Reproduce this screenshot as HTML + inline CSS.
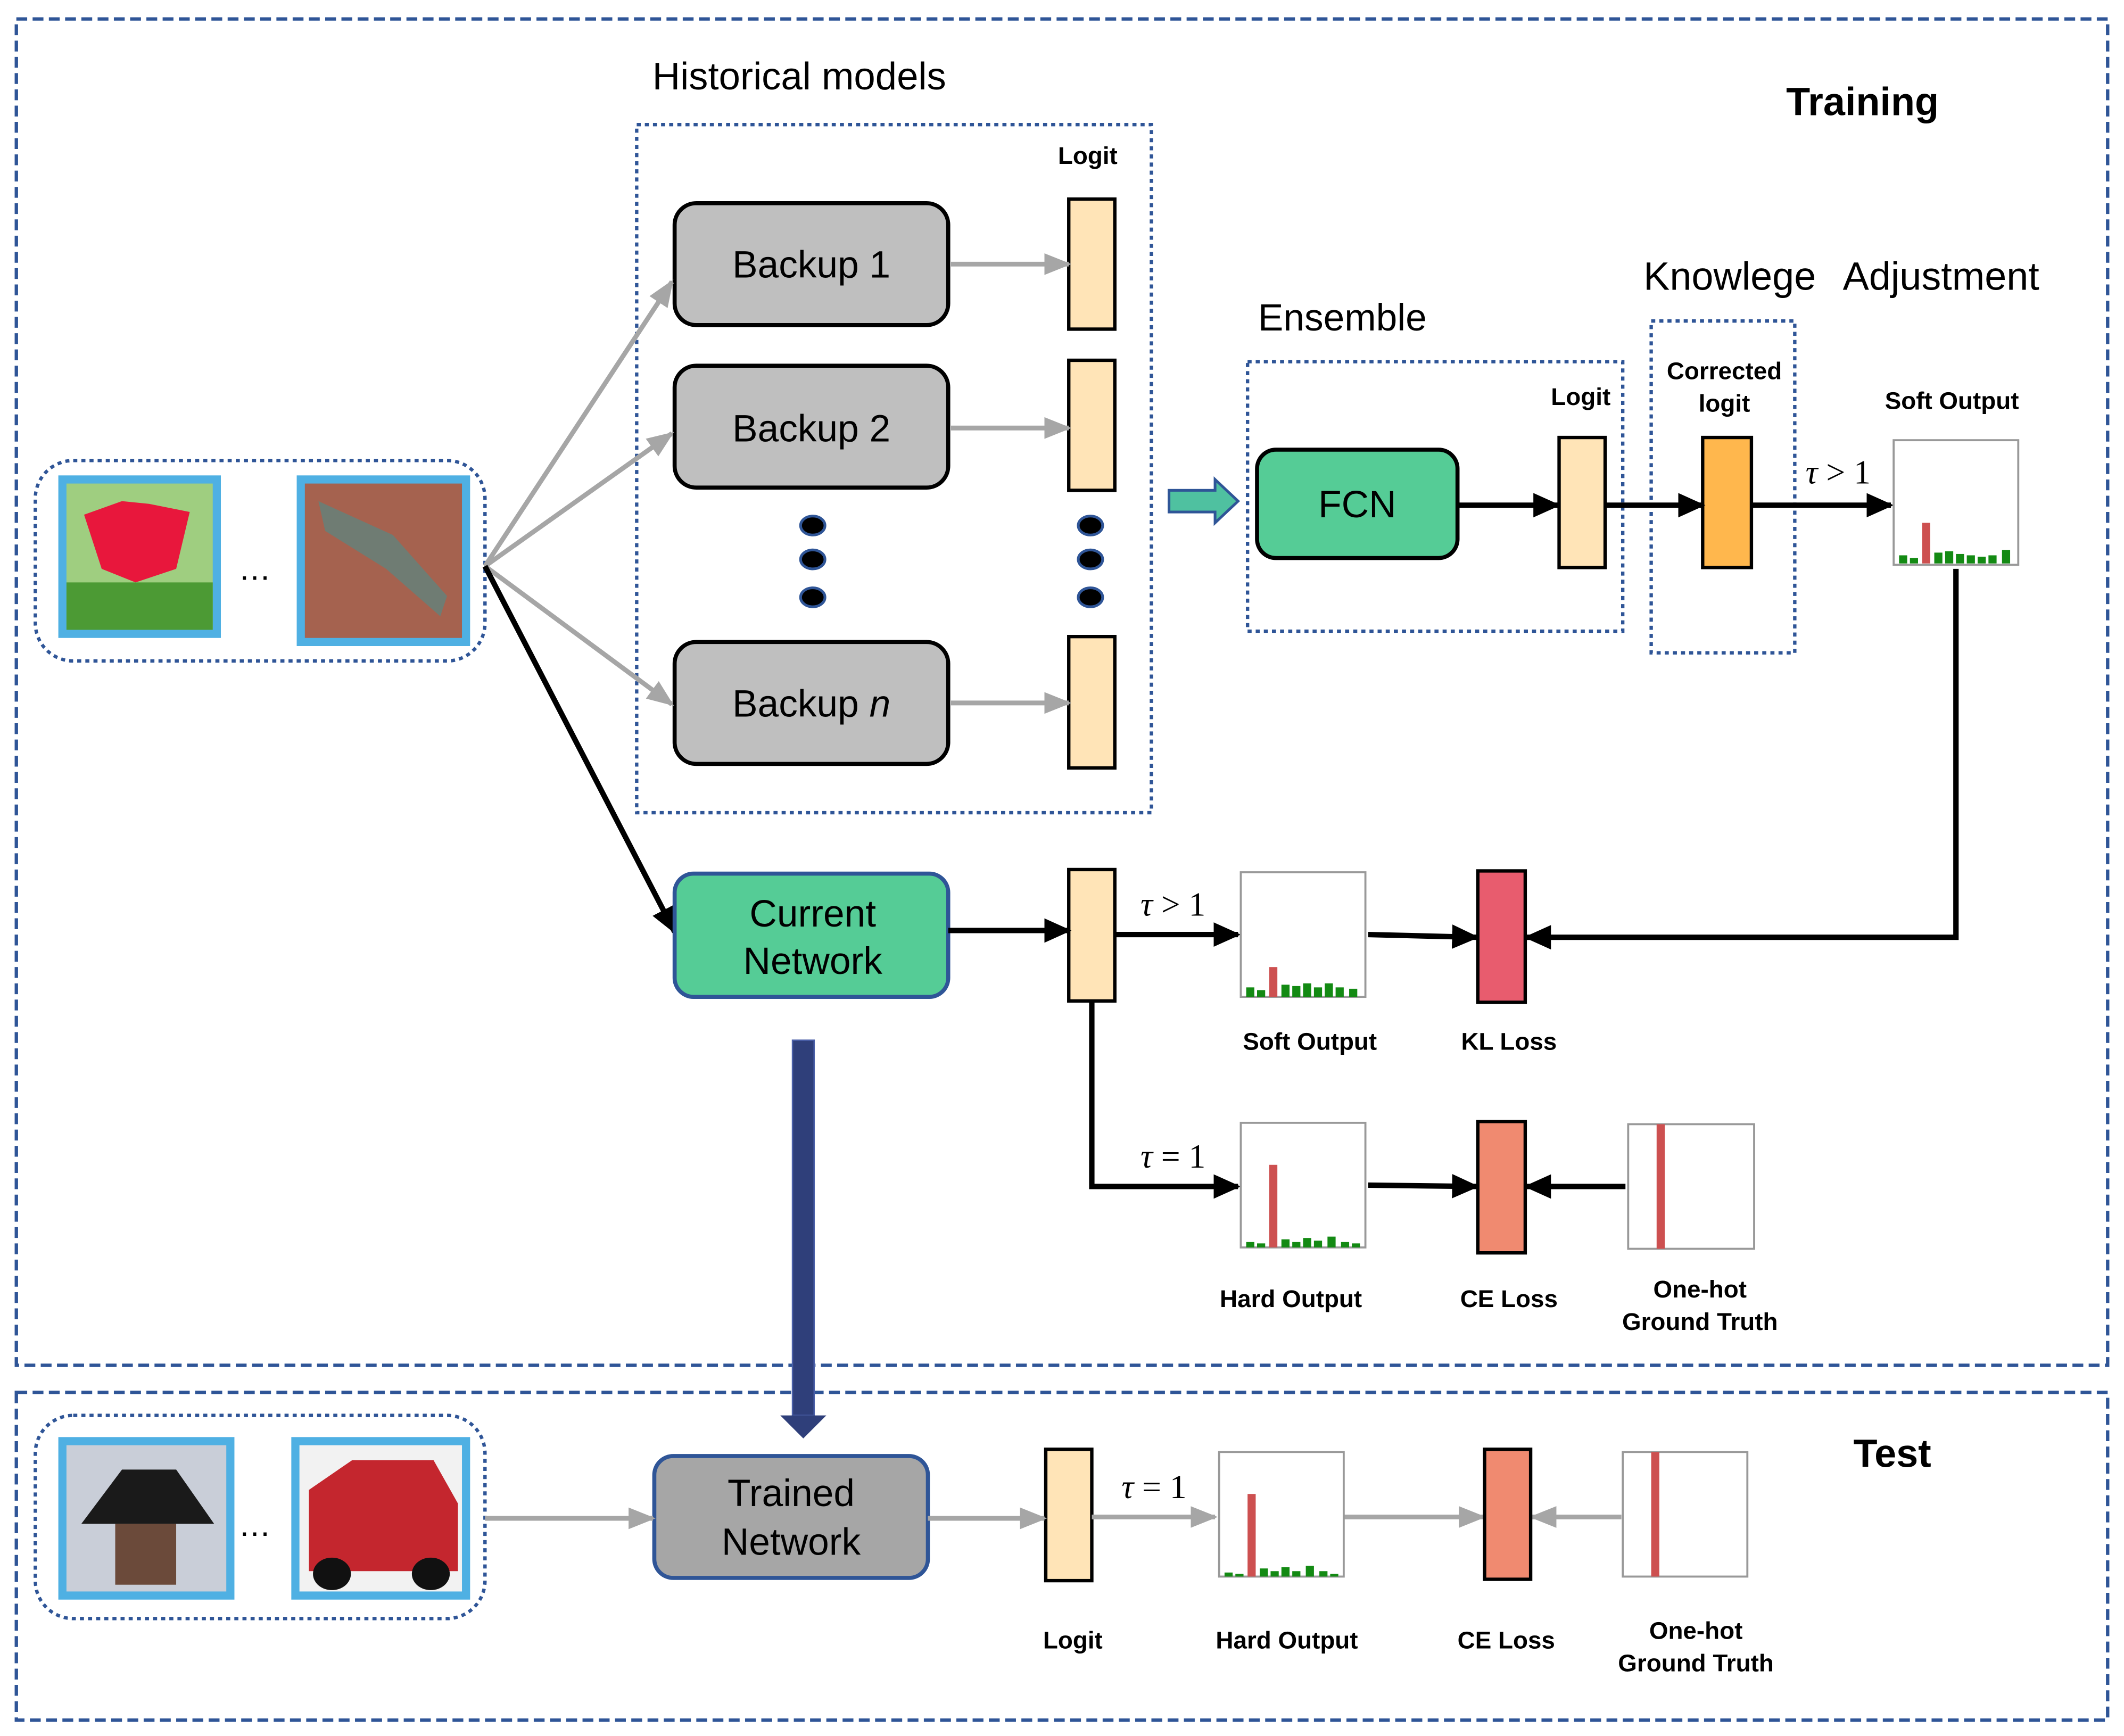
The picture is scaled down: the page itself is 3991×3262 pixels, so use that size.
<!DOCTYPE html>
<html><head><meta charset="utf-8"><style>html,body{margin:0;padding:0;background:#fff}svg{display:block}</style></head><body>
<svg xmlns="http://www.w3.org/2000/svg" width="3991" height="3262" viewBox="0 0 1568 1281.7" font-family="Liberation Sans, sans-serif">
<defs>
<marker id="abk" markerWidth="20" markerHeight="20" refX="18" refY="10" orient="auto" markerUnits="userSpaceOnUse"><path d="M0,1 L20,10 L0,19 z" fill="#000"/></marker>
<marker id="ag" markerWidth="20" markerHeight="20" refX="18" refY="10" orient="auto" markerUnits="userSpaceOnUse"><path d="M0,2 L20,10 L0,18 z" fill="#a6a6a6"/></marker>
</defs>
<rect width="1568" height="1282" fill="#fff"/>
<rect x="12" y="14" width="1544" height="994" fill="none" stroke="#2f5597" stroke-width="2.5" stroke-dasharray="8,4"/>
<rect x="12" y="1028" width="1544" height="242" fill="none" stroke="#2f5597" stroke-width="2.5" stroke-dasharray="8,4"/>
<text x="1375" y="85" font-size="29" font-weight="bold" text-anchor="middle">Training</text>
<text x="1397" y="1083" font-size="29" font-weight="bold" text-anchor="middle">Test</text>

<rect x="26" y="340" width="332" height="148" rx="28" fill="none" stroke="#2f5597" stroke-width="2.5" stroke-dasharray="3,3"/>
<rect x="46" y="354" width="114" height="114" fill="#9fce80" stroke="#4fb0e3" stroke-width="6"/>
<path d="M62,380 L90,370 L110,372 L140,378 L130,420 L100,430 L75,420 Z" fill="#e8173c"/>
<rect x="49" y="430" width="108" height="35" fill="#4c9a34"/>
<rect x="222" y="354" width="122" height="120" fill="#a5624f" stroke="#4fb0e3" stroke-width="6"/>
<path d="M235,370 L290,395 L330,440 L325,455 L285,420 L240,392Z" fill="#6f7c73"/>
<text x="188" y="428" font-size="24" text-anchor="middle">…</text>

<text x="590" y="66" font-size="28.5" text-anchor="middle">Historical models</text>
<rect x="470" y="92" width="380" height="508" fill="none" stroke="#2f5597" stroke-width="2.5" stroke-dasharray="3,3"/>
<text x="803" y="121" font-size="18" font-weight="bold" text-anchor="middle">Logit</text>
<g stroke="#000" stroke-width="3" fill="#bfbfbf">
<rect x="498" y="150" width="202" height="90" rx="16"/>
<rect x="498" y="270" width="202" height="90" rx="16"/>
<rect x="498" y="474" width="202" height="90" rx="16"/>
</g>
<g font-size="28" text-anchor="middle">
<text x="599" y="205">Backup 1</text>
<text x="599" y="326">Backup 2</text>
<text x="599" y="529">Backup <tspan font-style="italic">n</tspan></text>
</g>
<g stroke="#000" stroke-width="2.5" fill="#ffe4b7">
<rect x="789" y="147" width="34" height="96"/>
<rect x="789" y="266" width="34" height="96"/>
<rect x="789" y="470" width="34" height="97"/>
</g>
<g stroke="#a6a6a6" stroke-width="3.5" marker-end="url(#ag)">
<line x1="702" y1="195" x2="789" y2="195"/>
<line x1="702" y1="316" x2="789" y2="316"/>
<line x1="702" y1="519" x2="789" y2="519"/>
<line x1="358" y1="418" x2="496" y2="208"/>
<line x1="358" y1="418" x2="496" y2="320"/>
<line x1="358" y1="418" x2="496" y2="520"/>
</g>
<g fill="#000" stroke="#2f5597" stroke-width="2">
<ellipse cx="600" cy="388" rx="9" ry="7"/><ellipse cx="600" cy="413" rx="9" ry="7"/><ellipse cx="600" cy="441" rx="9" ry="7"/>
<ellipse cx="805" cy="388" rx="9" ry="7"/><ellipse cx="805" cy="413" rx="9" ry="7"/><ellipse cx="805" cy="441" rx="9" ry="7"/>
</g>
<line x1="358" y1="418" x2="498" y2="688" stroke="#000" stroke-width="4" marker-end="url(#abk)"/>

<path d="M863,362 L897,362 L897,354 L914,370 L897,386 L897,378 L863,378 Z" fill="#4fc1a0" stroke="#2f5597" stroke-width="2"/>
<text x="991" y="244" font-size="28" text-anchor="middle">Ensemble</text>
<rect x="921" y="267" width="277" height="199" fill="none" stroke="#2f5597" stroke-width="2.5" stroke-dasharray="3,3"/>
<rect x="928" y="332" width="148" height="80" rx="14" fill="#55cc96" stroke="#000" stroke-width="3"/>
<text x="1002" y="382" font-size="28" text-anchor="middle">FCN</text>
<text x="1167" y="299" font-size="18" font-weight="bold" text-anchor="middle">Logit</text>
<rect x="1151" y="323" width="34" height="96" fill="#ffe4b7" stroke="#000" stroke-width="2.5"/>
<text x="1277" y="214" font-size="29" text-anchor="middle">Knowlege</text>
<text x="1433" y="214" font-size="29" text-anchor="middle">Adjustment</text>
<rect x="1219" y="237" width="106" height="245" fill="none" stroke="#2f5597" stroke-width="2.5" stroke-dasharray="3,3"/>
<text x="1273" y="280" font-size="18" font-weight="bold" text-anchor="middle">Corrected</text>
<text x="1273" y="304" font-size="18" font-weight="bold" text-anchor="middle">logit</text>
<rect x="1257" y="323" width="36" height="96" fill="#ffb74d" stroke="#000" stroke-width="2.5"/>
<g stroke="#000" stroke-width="4" marker-end="url(#abk)">
<line x1="1076" y1="373" x2="1150" y2="373"/>
<line x1="1185" y1="373" x2="1257" y2="373"/>
<line x1="1293" y1="373" x2="1396" y2="373"/>
</g>
<text x="1357" y="357" font-size="25" font-family="Liberation Serif, serif" text-anchor="middle"><tspan font-style="italic">τ</tspan>  &gt;  1</text>
<text x="1441" y="302" font-size="18" font-weight="bold" text-anchor="middle">Soft Output</text>
<rect x="1398" y="325" width="92" height="92" fill="#fff" stroke="#999" stroke-width="1.5"/>
<g fill="#138a13"><rect x="1402" y="410" width="6" height="6"/><rect x="1410" y="412" width="6" height="4"/><rect x="1428" y="408" width="6" height="8"/><rect x="1436" y="407" width="6" height="9"/><rect x="1444" y="409" width="6" height="7"/><rect x="1452" y="410" width="6" height="6"/><rect x="1460" y="411" width="6" height="5"/><rect x="1468" y="410" width="6" height="6"/><rect x="1478" y="406" width="6" height="10"/></g>
<rect x="1419" y="386" width="6" height="30" fill="#cd5050"/>
<polyline points="1444,420 1444,692 1127,692" fill="none" stroke="#000" stroke-width="4" marker-end="url(#abk)"/>

<rect x="498" y="645" width="202" height="91" rx="14" fill="#55cc96" stroke="#2f5597" stroke-width="3"/>
<text x="600" y="684" font-size="28" text-anchor="middle">Current</text>
<text x="600" y="719" font-size="28" text-anchor="middle">Network</text>
<rect x="789" y="642" width="34" height="97" fill="#ffe4b7" stroke="#000" stroke-width="2.5"/>
<g stroke="#000" stroke-width="4" fill="none" marker-end="url(#abk)">
<line x1="700" y1="687" x2="789" y2="687"/>
<line x1="823" y1="690" x2="914" y2="690"/>
<line x1="1010" y1="690" x2="1090" y2="692"/>
<polyline points="806,739 806,876 914,876"/>
<line x1="1010" y1="875" x2="1090" y2="876"/>
<line x1="1200" y1="876" x2="1127" y2="876"/>
</g>
<text x="866" y="676" font-size="25" font-family="Liberation Serif, serif" text-anchor="middle"><tspan font-style="italic">τ</tspan>  &gt;  1</text>
<text x="866" y="862" font-size="25" font-family="Liberation Serif, serif" text-anchor="middle"><tspan font-style="italic">τ</tspan>  =  1</text>
<rect x="916" y="644" width="92" height="92" fill="#fff" stroke="#999" stroke-width="1.5"/>
<g fill="#138a13"><rect x="920" y="729" width="6" height="7"/><rect x="928" y="731" width="6" height="5"/><rect x="946" y="727" width="6" height="9"/><rect x="954" y="728" width="6" height="8"/><rect x="962" y="726" width="6" height="10"/><rect x="970" y="729" width="6" height="7"/><rect x="978" y="726" width="6" height="10"/><rect x="986" y="729" width="6" height="7"/><rect x="996" y="730" width="6" height="6"/></g>
<rect x="937" y="714" width="6" height="22" fill="#cd5050"/>
<text x="967" y="775" font-size="18" font-weight="bold" text-anchor="middle">Soft Output</text>
<rect x="1091" y="643" width="35" height="97" fill="#e85c6e" stroke="#000" stroke-width="2.5"/>
<text x="1114" y="775" font-size="18" font-weight="bold" text-anchor="middle">KL Loss</text>
<rect x="916" y="829" width="92" height="92" fill="#fff" stroke="#999" stroke-width="1.5"/>
<g fill="#138a13"><rect x="920" y="917" width="6" height="4"/><rect x="928" y="918" width="6" height="3"/><rect x="946" y="915" width="6" height="6"/><rect x="954" y="917" width="6" height="4"/><rect x="962" y="914" width="6" height="7"/><rect x="970" y="916" width="6" height="5"/><rect x="980" y="913" width="6" height="8"/><rect x="990" y="917" width="6" height="4"/><rect x="998" y="918" width="6" height="3"/></g>
<rect x="937" y="860" width="6" height="61" fill="#cd5050"/>
<text x="953" y="965" font-size="18" font-weight="bold" text-anchor="middle">Hard Output</text>
<rect x="1091" y="828" width="35" height="97" fill="#f08a70" stroke="#000" stroke-width="2.5"/>
<text x="1114" y="965" font-size="18" font-weight="bold" text-anchor="middle">CE Loss</text>
<rect x="1202" y="830" width="93" height="92" fill="#fff" stroke="#999" stroke-width="1.5"/>
<rect x="1223" y="830" width="6" height="92" fill="#cd5050"/>
<text x="1255" y="958" font-size="18" font-weight="bold" text-anchor="middle">One-hot</text>
<text x="1255" y="982" font-size="18" font-weight="bold" text-anchor="middle">Ground Truth</text>

<rect x="585" y="768" width="16" height="277" fill="#2f3f7a" stroke="#4a5fa8" stroke-width="1"/>
<path d="M576,1045 L610,1045 L593,1062 Z" fill="#2f3f7a"/>

<rect x="26" y="1045" width="332" height="150" rx="28" fill="none" stroke="#2f5597" stroke-width="2.5" stroke-dasharray="3,3"/>
<rect x="46" y="1064" width="124" height="114" fill="#c9ced8" stroke="#4fb0e3" stroke-width="6"/>
<path d="M60,1125 L90,1085 L130,1085 L158,1125 Z" fill="#1a1a1a"/>
<rect x="85" y="1125" width="45" height="45" fill="#6b4a3a"/>
<rect x="218" y="1064" width="126" height="114" fill="#f2f2f2" stroke="#4fb0e3" stroke-width="6"/>
<path d="M228,1100 L260,1078 L320,1078 L338,1110 L338,1160 L228,1160 Z" fill="#c4262e"/>
<ellipse cx="245" cy="1162" rx="14" ry="12" fill="#111"/><ellipse cx="318" cy="1162" rx="14" ry="12" fill="#111"/>
<text x="188" y="1134" font-size="24" text-anchor="middle">…</text>
<rect x="483" y="1075" width="202" height="90" rx="14" fill="#a6a6a6" stroke="#2f5597" stroke-width="3"/>
<text x="584" y="1112" font-size="28" text-anchor="middle">Trained</text>
<text x="584" y="1148" font-size="28" text-anchor="middle">Network</text>
<rect x="772" y="1070" width="34" height="97" fill="#ffe4b7" stroke="#000" stroke-width="2.5"/>
<g stroke="#a6a6a6" stroke-width="3.5" marker-end="url(#ag)">
<line x1="358" y1="1121" x2="482" y2="1121"/>
<line x1="685" y1="1121" x2="771" y2="1121"/>
<line x1="806" y1="1120" x2="897" y2="1120"/>
<line x1="992" y1="1120" x2="1095" y2="1120"/>
<line x1="1197" y1="1120" x2="1131" y2="1120"/>
</g>
<text x="852" y="1106" font-size="25" font-family="Liberation Serif, serif" text-anchor="middle"><tspan font-style="italic">τ</tspan>  =  1</text>
<rect x="900" y="1072" width="92" height="92" fill="#fff" stroke="#999" stroke-width="1.5"/>
<g fill="#138a13"><rect x="904" y="1161" width="6" height="3"/><rect x="912" y="1162" width="6" height="2"/><rect x="930" y="1158" width="6" height="6"/><rect x="938" y="1160" width="6" height="4"/><rect x="946" y="1157" width="6" height="7"/><rect x="954" y="1160" width="6" height="4"/><rect x="964" y="1156" width="6" height="8"/><rect x="974" y="1160" width="6" height="4"/><rect x="982" y="1162" width="6" height="2"/></g>
<rect x="921" y="1103" width="6" height="61" fill="#cd5050"/>
<rect x="1096" y="1070" width="34" height="96" fill="#f08a70" stroke="#000" stroke-width="2.5"/>
<rect x="1198" y="1072" width="92" height="92" fill="#fff" stroke="#999" stroke-width="1.5"/>
<rect x="1219" y="1072" width="6" height="92" fill="#cd5050"/>
<g font-size="18" font-weight="bold" text-anchor="middle">
<text x="792" y="1217">Logit</text>
<text x="950" y="1217">Hard Output</text>
<text x="1112" y="1217">CE Loss</text>
<text x="1252" y="1210">One-hot</text>
<text x="1252" y="1234">Ground Truth</text>
</g>
</svg>
</body></html>
